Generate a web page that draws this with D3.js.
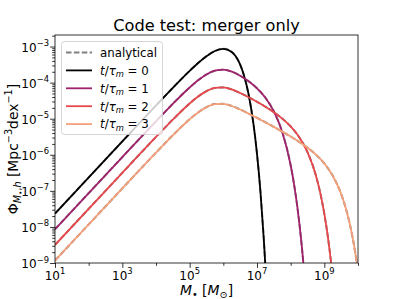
<!DOCTYPE html>
<html>
<head>
<meta charset="utf-8">
<script src="https://cdn.jsdelivr.net/npm/d3@7"></script>
<style>
body { margin: 0; background: #fff; }
svg { display: block; font-family: "DejaVu Sans", sans-serif; }
</style>
</head>
<body>
<svg width="399" height="299"></svg>
<script>
// log10 of M (x) and of Phi (y), one pair per snapshot
const logM_t0 = [1, 3, 4, 4.5, 5, 5.25, 5.5, 5.75, 6, 6.25, 6.5, 6.6, 6.75, 6.9, 7, 7.1, 7.2, 7.25, 7.3];
const logPhi_t0 = [-7.63, -5.63, -4.634, -4.144, -3.673, -3.457, -3.267, -3.124, -3.064, -3.152, -3.503, -3.759, -4.322, -5.180, -5.973, -6.997, -8.313, -9.102, -9.994];

const logM_t1 = [1, 3, 4, 4.5, 5, 5.25, 5.5, 5.75, 6, 6.25, 6.5, 6.75, 7, 7.25, 7.5, 7.75, 8, 8.1, 8.2, 8.3, 8.4, 8.5];
const logPhi_t1 = [-8.064, -6.064, -5.071, -4.586, -4.134, -3.936, -3.774, -3.670, -3.642, -3.695, -3.808, -3.961, -4.157, -4.420, -4.795, -5.367, -6.291, -6.813, -7.458, -8.256, -9.250, -10.486];

const logM_t2 = [1, 3, 4, 4.5, 5, 5.25, 5.5, 5.75, 6, 6.25, 6.5, 6.75, 7, 7.25, 7.5, 7.75, 8, 8.25, 8.5, 8.75, 8.9, 9, 9.1, 9.2, 9.3];
const logPhi_t2 = [-8.499, -6.499, -5.507, -5.024, -4.578, -4.387, -4.236, -4.146, -4.133, -4.190, -4.288, -4.404, -4.531, -4.669, -4.821, -4.997, -5.215, -5.506, -5.926, -6.576, -7.147, -7.636, -8.239, -8.986, -9.912];

const logM_t3 = [1, 3, 4, 4.5, 5, 5.25, 5.5, 5.75, 6, 6.25, 6.5, 6.75, 7, 7.25, 7.5, 7.75, 8, 8.25, 8.5, 8.75, 9, 9.25, 9.5, 9.65, 9.75, 9.85, 9.95, 10];
const logPhi_t3 = [-8.933, -6.933, -5.941, -5.460, -5.016, -4.827, -4.680, -4.596, -4.588, -4.648, -4.746, -4.858, -4.977, -5.101, -5.227, -5.358, -5.494, -5.641, -5.803, -5.996, -6.242, -6.582, -7.089, -7.524, -7.893, -8.345, -8.901, -9.226];

const tLabels = ["0", "1", "2", "3"];
const lineColors = ["#000000", "#a0216c", "#e8474b", "#f6a07a"];

const xTickExp = [1, 3, 5, 7, 9];
const xMinorExp = [2, 4, 6, 8, 10];
const yTickExp = [-9, -8, -7, -6, -5, -4, -3];

// plot area
const pLeft = 55, pRight = 358, pTop = 35, pBottom = 263;

const svg = d3.select("svg");

const x = d3.scaleLog().domain([1e1, 1e10]).range([pLeft, pRight]);
const y = d3.scaleLog().domain([1e-9, Math.pow(10, -2.68)]).range([pBottom, pTop]);

const series = [
    [logM_t0, logPhi_t0],
    [logM_t1, logPhi_t1],
    [logM_t2, logPhi_t2],
    [logM_t3, logPhi_t3]
].map(([lm, lp], i) => ({
    label: tLabels[i],
    color: lineColors[i],
    points: lm.map((m, j) => [Math.pow(10, m), Math.pow(10, lp[j])])
}));

svg.append("clipPath").attr("id", "plot-clip")
    .append("rect")
    .attr("x", pLeft).attr("y", pTop)
    .attr("width", pRight - pLeft).attr("height", pBottom - pTop);

const line = d3.line()
    .x(d => x(d[0]))
    .y(d => y(d[1]))
    .curve(d3.curveMonotoneX);

const plot = svg.append("g").attr("clip-path", "url(#plot-clip)");

// analytical curves first (dashed), simulation on top
series.forEach(s => {
    plot.append("path")
        .attr("d", line(s.points))
        .attr("fill", "none")
        .attr("stroke", "#808080")
        .attr("stroke-width", 2)
        .attr("stroke-dasharray", "5.5,2.4");
});
series.forEach(s => {
    plot.append("path")
        .attr("d", line(s.points))
        .attr("fill", "none")
        .attr("stroke", s.color)
        .attr("stroke-width", 1.8);
});

// ticks
const tickStyle = g => {
    g.select(".domain").remove();
    g.selectAll("line").attr("stroke", "#000").attr("stroke-width", 0.8);
};

svg.append("g")
    .attr("transform", `translate(0,${pBottom})`)
    .call(d3.axisBottom(x).tickValues(xTickExp.map(e => Math.pow(10, e))).tickSize(4.9).tickFormat(""))
    .call(tickStyle);
svg.append("g")
    .attr("transform", `translate(0,${pBottom})`)
    .call(d3.axisBottom(x).tickValues(xMinorExp.map(e => Math.pow(10, e))).tickSize(2.8).tickFormat(""))
    .call(tickStyle);

const yMinor = [];
for (let e = -9; e <= -3; e++) {
    for (let k = 2; k <= 9; k++) {
        const v = k * Math.pow(10, e);
        if (v <= y.domain()[1]) yMinor.push(v);
    }
}
svg.append("g")
    .attr("transform", `translate(${pLeft},0)`)
    .call(d3.axisLeft(y).tickValues(yTickExp.map(e => Math.pow(10, e))).tickSize(4.9).tickFormat(""))
    .call(tickStyle);
svg.append("g")
    .attr("transform", `translate(${pLeft},0)`)
    .call(d3.axisLeft(y).tickValues(yMinor).tickSize(2.8).tickFormat(""))
    .call(tickStyle);

// frame
svg.append("rect")
    .attr("x", pLeft).attr("y", pTop)
    .attr("width", pRight - pLeft).attr("height", pBottom - pTop)
    .attr("fill", "none")
    .attr("stroke", "#000")
    .attr("stroke-width", 0.8);

// tick labels
const fs = 12, supFs = 8.4;
xTickExp.forEach(e => {
    const t = svg.append("text")
        .attr("x", x(Math.pow(10, e)))
        .attr("y", 279.5)
        .attr("text-anchor", "middle")
        .attr("font-size", fs);
    t.append("tspan").text("10");
    t.append("tspan").attr("font-size", supFs).attr("dy", -5.5).text(String(e));
});
yTickExp.forEach(e => {
    const t = svg.append("text")
        .attr("x", 49)
        .attr("y", y(Math.pow(10, e)) + 5)
        .attr("text-anchor", "end")
        .attr("font-size", fs);
    t.append("tspan").text("10");
    t.append("tspan").attr("font-size", supFs).attr("dy", -5.5).text("\u2212" + Math.abs(e));
});

// title
svg.append("text")
    .attr("x", (pLeft + pRight) / 2)
    .attr("y", 31)
    .attr("text-anchor", "middle")
    .attr("font-size", 16.2)
    .text("Code test: merger only");

// axis labels
const labFs = 13.9, labSub = 9.7;
const xl = svg.append("text")
    .attr("x", (pLeft + pRight) / 2)
    .attr("y", 295)
    .attr("text-anchor", "middle")
    .attr("font-size", labFs);
xl.append("tspan").attr("font-style", "italic").text("M");
xl.append("tspan").attr("font-size", labSub).attr("dy", 3).text("\u2022");
xl.append("tspan").attr("dy", -3).text(" [");
xl.append("tspan").attr("font-style", "italic").text("M");
xl.append("tspan").attr("font-size", labSub).attr("dy", 3).text("\u2299");
xl.append("tspan").attr("dy", -3).text("]");

const yl = svg.append("text")
    .attr("transform", `translate(18,${(pTop + pBottom) / 2}) rotate(-90)`)
    .attr("text-anchor", "middle")
    .attr("font-size", labFs);
yl.append("tspan").text("\u03a6");
yl.append("tspan").attr("font-size", labSub).attr("font-style", "italic").attr("dy", 3).text("M");
yl.append("tspan").attr("font-size", 7).attr("dy", 1.5).text("\u2022");
yl.append("tspan").attr("font-size", labSub).attr("dy", -1.5).text(",");
yl.append("tspan").attr("font-size", labSub).attr("font-style", "italic").text("h");
yl.append("tspan").attr("dy", -3).text(" [Mpc");
yl.append("tspan").attr("font-size", labSub).attr("dy", -6).text("\u22123");
yl.append("tspan").attr("dy", 6).text("dex");
yl.append("tspan").attr("font-size", labSub).attr("dy", -6).text("\u22121");
yl.append("tspan").attr("dy", 6).text("]");

// legend
const legFs = 11.8;
const legend = svg.append("g");
legend.append("rect")
    .attr("x", 61.5).attr("y", 41.5)
    .attr("width", 101).attr("height", 93)
    .attr("rx", 3)
    .attr("fill", "#fff").attr("fill-opacity", 0.8)
    .attr("stroke", "#cccccc").attr("stroke-width", 0.8);

const rowY = i => 52.5 + i * 17.9;
legend.append("line")
    .attr("x1", 66).attr("x2", 92)
    .attr("y1", rowY(0)).attr("y2", rowY(0))
    .attr("stroke", "#808080").attr("stroke-width", 2)
    .attr("stroke-dasharray", "5.5,2.4");
legend.append("text")
    .attr("x", 100).attr("y", rowY(0) + 4.3)
    .attr("font-size", legFs)
    .text("analytical");

series.forEach((s, i) => {
    const yy = rowY(i + 1);
    legend.append("line")
        .attr("x1", 66).attr("x2", 92)
        .attr("y1", yy).attr("y2", yy)
        .attr("stroke", s.color).attr("stroke-width", 1.8);
    const t = legend.append("text")
        .attr("x", 100).attr("y", yy + 4.3)
        .attr("font-size", legFs);
    t.append("tspan").attr("font-style", "italic").text("t");
    t.append("tspan").text("/");
    t.append("tspan").attr("font-style", "italic").text("\u03c4");
    t.append("tspan").attr("font-style", "italic").attr("font-size", 8.3).attr("dy", 2.5).text("m");
    t.append("tspan").attr("dy", -2.5).text(" = " + s.label);
});
</script>
</body>
</html>
